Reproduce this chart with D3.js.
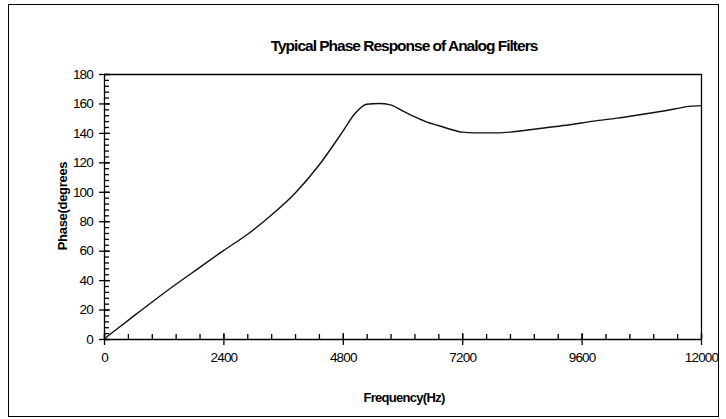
<!DOCTYPE html>
<meta charset="utf-8">
<style>
 body { margin: 0; background: #fff; font-family: 'Liberation Sans', Arial, sans-serif; }
 .axis path { fill: none; stroke: #000; stroke-width: 1.3px; }
 .axis line { stroke: #000; stroke-width: 1.3px; }
 .axis text { font-size: 13.5px; fill: #000; letter-spacing: -0.8px; }
</style>
<body>
<script src="https://cdn.jsdelivr.net/npm/d3@7"></script>
<script>

 // values
 var freqHz = [0, 480, 960, 1440, 1920, 2400, 2880, 3360, 3840, 4320, 4800, 5040, 5280, 5520, 5760,
               6000, 6240, 6480, 6720, 6960, 7200, 7440, 7680, 7920, 8160, 8400, 8880, 9360, 9840,
               10320, 10800, 11280, 11760, 12000];
 var phaseDeg = [0, 12.5, 25, 37, 48.5, 60, 71, 84, 99, 118, 141, 153, 159.5, 160, 159,
                 155, 151, 147.5, 145, 142.5, 140.5, 140, 140, 140, 140.5, 141.5, 143.5, 145.5, 148,
                 150, 152.5, 155, 158, 158.5];
 var xTicks = [0, 2400, 4800, 7200, 9600, 12000];
 var yTicks = [0, 20, 40, 60, 80, 100, 120, 140, 160, 180];
 var xMinorStep = 480, yMinorStep = 4;

 var data = freqHz.map(function(f, i) { return {x: f, y: phaseDeg[i]}; });

 var W = 726, H = 419;
 var plot = {left: 104, right: 701, top: 74, bottom: 339};

 var svg = d3.select("body").append("svg")
             .attr("width", W)
             .attr("height", H);

 // outer frame
 svg.append("rect")
    .attr("x", 8.5).attr("y", 4.5)
    .attr("width", 710).attr("height", 412)
    .attr("fill", "#fff").attr("stroke", "#000");

 var xScale = d3.scaleLinear().domain([0, 12000]).range([plot.left, plot.right]);
 var yScale = d3.scaleLinear().domain([0, 180]).range([plot.bottom, plot.top]);

 // plot box (top and right edges)
 svg.append("path")
    .attr("d", "M" + plot.left + "," + (plot.top + 0.5) + "H" + (plot.right + 0.5) + "V" + plot.bottom)
    .attr("fill", "none").attr("stroke", "#000")
    .attr("stroke-width", 1.3);

 // minor ticks, drawn inside the plot
 var xMinor = d3.axisBottom(xScale).tickValues(d3.range(0, 12001, xMinorStep))
                .tickSize(-5).tickSizeOuter(0).tickFormat("");
 svg.append("g").attr("class", "axis")
    .attr("transform", "translate(0," + plot.bottom + ")")
    .call(xMinor);

 var yMinor = d3.axisLeft(yScale).tickValues(d3.range(0, 181, yMinorStep))
                .tickSize(-5).tickSizeOuter(0).tickFormat("");
 svg.append("g").attr("class", "axis")
    .attr("transform", "translate(" + plot.left + ",0)")
    .call(yMinor);

 // major ticks cross the axis
 var xAxis = d3.axisBottom(xScale).tickValues(xTicks).tickFormat(d3.format("d"))
               .tickSize(6).tickSizeOuter(0).tickPadding(7);
 var gX = svg.append("g").attr("class", "axis")
             .attr("transform", "translate(0," + plot.bottom + ")")
             .call(xAxis);
 gX.select(".domain").remove();
 gX.selectAll(".tick line").attr("y1", -6);

 var yAxis = d3.axisLeft(yScale).tickValues(yTicks).tickFormat(d3.format("d"))
               .tickSize(5).tickSizeOuter(0).tickPadding(6);
 var gY = svg.append("g").attr("class", "axis")
             .attr("transform", "translate(" + plot.left + ",0)")
             .call(yAxis);
 gY.select(".domain").remove();
 gY.selectAll(".tick line").attr("x1", 6);

 // the curve
 svg.append("path")
    .datum(data)
    .attr("fill", "none")
    .attr("stroke", "#111")
    .attr("stroke-width", 1.4)
    .attr("d", d3.line()
                 .x(function(d) { return xScale(d.x); })
                 .y(function(d) { return yScale(d.y); })
                 .curve(d3.curveMonotoneX));

 // title
 svg.append("text")
    .attr("x", 404).attr("y", 51)
    .attr("text-anchor", "middle")
    .attr("font-weight", "bold")
    .attr("font-size", "15.5px")
    .attr("letter-spacing", "-1px")
    .text("Typical Phase Response of Analog Filters");

 // axis titles
 svg.append("text")
    .attr("x", 404).attr("y", 402)
    .attr("text-anchor", "middle")
    .attr("font-weight", "bold")
    .attr("font-size", "13px")
    .attr("letter-spacing", "-0.7px")
    .text("Frequency(Hz)");

 svg.append("text")
    .attr("transform", "translate(67,206) rotate(-90)")
    .attr("text-anchor", "middle")
    .attr("font-weight", "bold")
    .attr("font-size", "13px")
    .attr("letter-spacing", "-0.3px")
    .text("Phase(degrees");

</script>
